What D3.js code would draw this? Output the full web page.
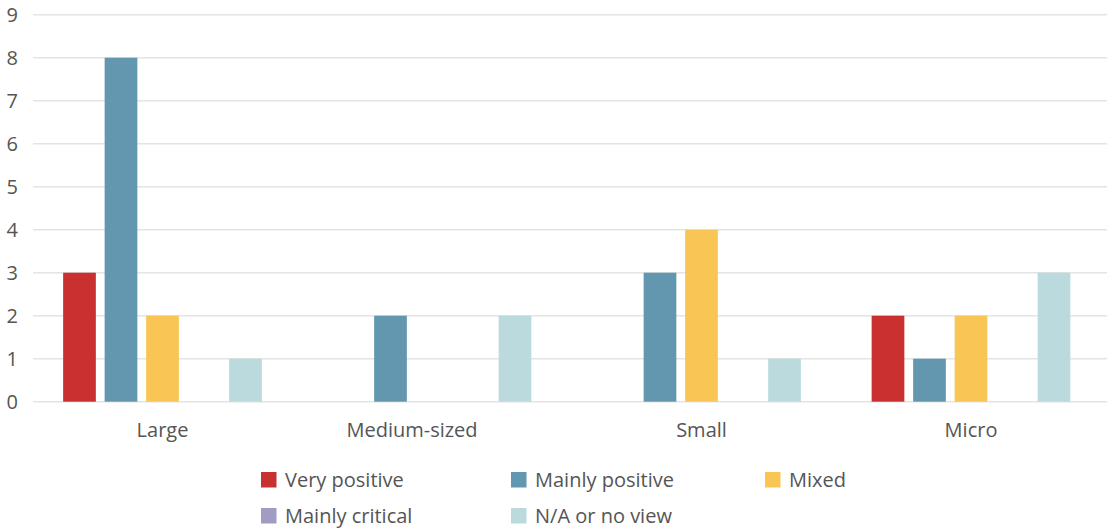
<!DOCTYPE html>
<html>
<head>
<meta charset="utf-8">
<script src="https://cdn.jsdelivr.net/npm/d3@7"></script>
<style>
  html, body { margin: 0; padding: 0; background: #fff; }
  svg { display: block; font-family: "Open Sans", "Noto Sans", sans-serif; }
</style>
</head>
<body>
<svg id="chart" width="1107" height="528"></svg>
<script>
// Company size groups
const categories = ["Large", "Medium-sized", "Small", "Micro"];

// Response series
const seriesNames = ["Very positive", "Mainly positive", "Mixed", "Mainly critical", "N/A or no view"];
const seriesColors = ["#C8312F", "#6297AF", "#F9C655", "#A29BC2", "#BBDADD"];

// Counts per series, one value per category
const veryPositive   = [3, 0, 0, 2];
const mainlyPositive = [8, 2, 3, 1];
const mixed          = [2, 0, 4, 2];
const mainlyCritical = [0, 0, 0, 0];
const naOrNoView     = [1, 2, 1, 3];

const yTicks = [0, 1, 2, 3, 4, 5, 6, 7, 8, 9];

const seriesValues = [veryPositive, mainlyPositive, mixed, mainlyCritical, naOrNoView];

const svg = d3.select("#chart");
const textColor = "#555555";
const fontSize = "20px";

const x0 = d3.scaleBand()
  .domain(categories)
  .range([27.75, 1105.75])
  .paddingInner(0.2626)
  .paddingOuter(0.1313);

const x1 = d3.scaleBand()
  .domain(seriesNames)
  .range([0, x0.bandwidth()])
  .paddingInner(0.212);

const y = d3.scaleLinear().domain([0, 9]).range([401.7, 14.7]);

// Horizontal gridlines
svg.append("g")
  .selectAll("line")
  .data(yTicks)
  .join("line")
  .attr("x1", 33).attr("x2", 1107)
  .attr("y1", d => y(d)).attr("y2", d => y(d))
  .attr("stroke", "#E4E4E4")
  .attr("stroke-width", 1.5);

// Y axis labels
const yAxis = d3.axisLeft(y).tickValues(yTicks).tickSize(0).tickPadding(0);
svg.append("g")
  .attr("transform", "translate(18,0)")
  .call(yAxis)
  .call(g => g.select(".domain").remove())
  .call(g => g.selectAll("text")
    .attr("fill", textColor)
    .style("font-size", fontSize)
    .style("font-family", "'Open Sans', sans-serif"));

// Bars
const rows = [];
categories.forEach((c, ci) => {
  seriesNames.forEach((s, si) => {
    rows.push({ cat: c, series: s, value: seriesValues[si][ci], color: seriesColors[si] });
  });
});

svg.append("g")
  .selectAll("rect")
  .data(rows.filter(d => d.value > 0))
  .join("rect")
  .attr("x", d => x0(d.cat) + x1(d.series))
  .attr("y", d => y(d.value))
  .attr("width", x1.bandwidth())
  .attr("height", d => y(0) - y(d.value))
  .attr("fill", d => d.color);

// Category axis labels
const labelShift = { "Medium-sized": -20 };
const xAxis = d3.axisBottom(x0).tickSize(0).tickPadding(0);
svg.append("g")
  .attr("transform", "translate(0,423)")
  .call(xAxis)
  .call(g => g.select(".domain").remove())
  .call(g => g.selectAll("text")
    .attr("fill", textColor)
    .attr("dx", d => labelShift[d] || 0)
    .style("font-size", fontSize)
    .style("font-family", "'Open Sans', sans-serif"));

// Legend
const legendPos = [
  { x: 261, y: 472 }, { x: 511, y: 472 }, { x: 765, y: 472 },
  { x: 261, y: 508 }, { x: 511, y: 508 }
];
const legend = svg.append("g")
  .selectAll("g")
  .data(seriesNames)
  .join("g")
  .attr("transform", (d, i) => `translate(${legendPos[i].x},${legendPos[i].y})`);

legend.append("rect")
  .attr("width", 15.5).attr("height", 15.5)
  .attr("fill", (d, i) => seriesColors[i]);

legend.append("text")
  .attr("x", 24)
  .attr("y", 15)
  .attr("fill", textColor)
  .style("font-size", fontSize)
  .text(d => d);
</script>
</body>
</html>
